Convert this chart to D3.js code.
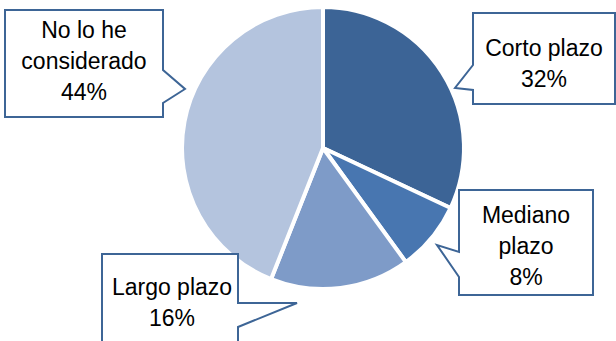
<!doctype html>
<html>
<head>
<meta charset="utf-8">
<style>
  body { margin: 0; background: #fff; }
  text { font-family: "Liberation Sans", Arial, sans-serif; font-size: 23px; fill: #000; }
</style>
<script src="https://d3js.org/d3.v7.min.js"></script>
</head>
<body>
<div id="chart"></div>
<script>
// data
var categories = ["Corto plazo", "Mediano plazo", "Largo plazo", "No lo he considerado"];
var values = [32, 8, 16, 44];
var labelLines = [["Corto plazo", "32%"], ["Mediano", "plazo", "8%"], ["Largo plazo", "16%"], ["No lo he", "considerado", "44%"]];
var colors = ["#3c6496", "#4876b0", "#7e9bc8", "#b4c4de"];

var width = 616, height = 341;
var cx = 323, cy = 148, radius = 141;

// callout boxes: box rect, pointer (side, base1, tip, base2), text center and first baseline
var callouts = [
  {x0: 473, y0: 13, x1: 615, y1: 104, side: "left", b1: 65, tip: [455, 88], b2: 90, tx: 544, ty: 56},
  {x0: 459, y0: 190, x1: 593, y1: 295, side: "left", b1: 252, tip: [437, 245], b2: 277, tx: 526, ty: 223},
  {x0: 102, y0: 254, x1: 238, y1: 360, side: "right", b1: 303, tip: [297, 303], b2: 327, tx: 172, ty: 295},
  {x0: 5, y0: 10, x1: 163, y1: 117, side: "right", b1: 70, tip: [185, 89], b2: 103, tx: 84, ty: 38}
];

var svg = d3.select("#chart").append("svg")
  .attr("width", width)
  .attr("height", height);

var data = categories.map(function(c, i) { return {name: c, value: values[i], lines: labelLines[i]}; });

var pie = d3.pie().sort(null).value(function(d) { return d.value; });
var arc = d3.arc().innerRadius(0).outerRadius(radius);

svg.append("g")
  .attr("transform", "translate(" + cx + "," + cy + ")")
  .selectAll("path")
  .data(pie(data))
  .enter()
  .append("path")
    .attr("d", arc)
    .attr("fill", function(d, i) { return colors[i]; })
    .attr("stroke", "#fff")
    .attr("stroke-width", 4)
    .attr("stroke-linejoin", "round");

// callout path builder
function calloutPath(c) {
  var p = d3.path();
  p.moveTo(c.x0, c.y0);
  p.lineTo(c.x1, c.y0);
  if (c.side == "right") {
    p.lineTo(c.x1, c.b1);
    p.lineTo(c.tip[0], c.tip[1]);
    p.lineTo(c.x1, c.b2);
  }
  p.lineTo(c.x1, c.y1);
  p.lineTo(c.x0, c.y1);
  if (c.side == "left") {
    p.lineTo(c.x0, c.b2);
    p.lineTo(c.tip[0], c.tip[1]);
    p.lineTo(c.x0, c.b1);
  }
  p.closePath();
  return p.toString();
}

var g = svg.selectAll(".callout")
  .data(data)
  .enter()
  .append("g")
    .attr("class", "callout");

g.append("path")
  .attr("d", function(d, i) { return calloutPath(callouts[i]); })
  .attr("fill", "#fff")
  .attr("stroke", "#3d6596")
  .attr("stroke-width", 2)
  .attr("stroke-linejoin", "miter");

g.each(function(d, i) {
  var c = callouts[i];
  d3.select(this).selectAll("text")
    .data(d.lines)
    .enter()
    .append("text")
      .attr("x", c.tx)
      .attr("y", function(l, j) { return c.ty + j * 31; })
      .attr("text-anchor", "middle")
      .text(function(l) { return l; });
});
</script>
</body>
</html>
